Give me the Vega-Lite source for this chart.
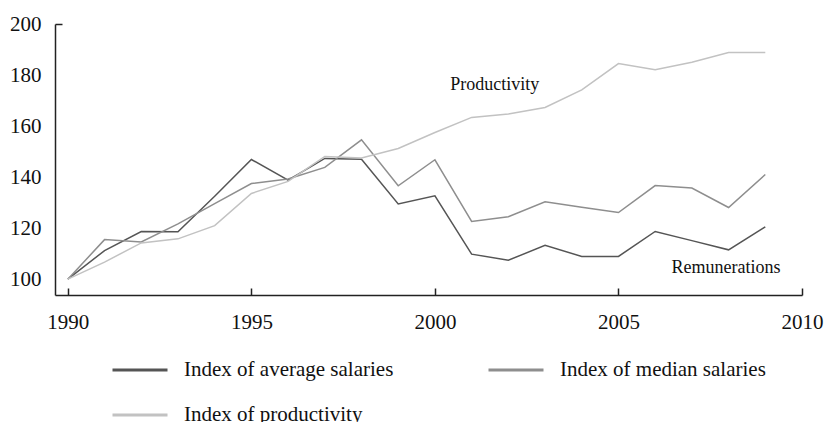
{
  "$schema": "https://vega.github.io/schema/vega-lite/v6.json",
  "autosize": "none",
  "width": 747,
  "height": 271,
  "padding": {"left": 55, "top": 24, "right": 22, "bottom": 127},
  "background": "white",
  "config": {
    "view": {"stroke": null},
    "font": "Liberation Serif",
    "axis": {"domainColor": "#222", "domainWidth": 1.5, "tickColor": "#222", "tickWidth": 1.5, "labelColor": "#111", "labelFont": "Liberation Serif", "labelFontSize": 21, "grid": false, "title": null}
  },
  "datasets": {
    "series": [
      {"year": 1990, "series": "Index of average salaries", "value": 100},
      {"year": 1991, "series": "Index of average salaries", "value": 111.2},
      {"year": 1992, "series": "Index of average salaries", "value": 118.7},
      {"year": 1993, "series": "Index of average salaries", "value": 118.6},
      {"year": 1994, "series": "Index of average salaries", "value": 132.5},
      {"year": 1995, "series": "Index of average salaries", "value": 146.9},
      {"year": 1996, "series": "Index of average salaries", "value": 138.8},
      {"year": 1997, "series": "Index of average salaries", "value": 147.3},
      {"year": 1998, "series": "Index of average salaries", "value": 147.0},
      {"year": 1999, "series": "Index of average salaries", "value": 129.5},
      {"year": 2000, "series": "Index of average salaries", "value": 132.7},
      {"year": 2001, "series": "Index of average salaries", "value": 109.8},
      {"year": 2002, "series": "Index of average salaries", "value": 107.4},
      {"year": 2003, "series": "Index of average salaries", "value": 113.3},
      {"year": 2004, "series": "Index of average salaries", "value": 108.9},
      {"year": 2005, "series": "Index of average salaries", "value": 108.9},
      {"year": 2006, "series": "Index of average salaries", "value": 118.7},
      {"year": 2007, "series": "Index of average salaries", "value": 115.1},
      {"year": 2008, "series": "Index of average salaries", "value": 111.5},
      {"year": 2009, "series": "Index of average salaries", "value": 120.5},
      {"year": 1990, "series": "Index of median salaries", "value": 100},
      {"year": 1991, "series": "Index of median salaries", "value": 115.5},
      {"year": 1992, "series": "Index of median salaries", "value": 114.6},
      {"year": 1993, "series": "Index of median salaries", "value": 121.7},
      {"year": 1994, "series": "Index of median salaries", "value": 129.6},
      {"year": 1995, "series": "Index of median salaries", "value": 137.5},
      {"year": 1996, "series": "Index of median salaries", "value": 139.3},
      {"year": 1997, "series": "Index of median salaries", "value": 143.8},
      {"year": 1998, "series": "Index of median salaries", "value": 154.6},
      {"year": 1999, "series": "Index of median salaries", "value": 136.6},
      {"year": 2000, "series": "Index of median salaries", "value": 146.8},
      {"year": 2001, "series": "Index of median salaries", "value": 122.6},
      {"year": 2002, "series": "Index of median salaries", "value": 124.5},
      {"year": 2003, "series": "Index of median salaries", "value": 130.3},
      {"year": 2004, "series": "Index of median salaries", "value": 128.2},
      {"year": 2005, "series": "Index of median salaries", "value": 126.1},
      {"year": 2006, "series": "Index of median salaries", "value": 136.7},
      {"year": 2007, "series": "Index of median salaries", "value": 135.7},
      {"year": 2008, "series": "Index of median salaries", "value": 128.1},
      {"year": 2009, "series": "Index of median salaries", "value": 141.0},
      {"year": 1990, "series": "Index of productivity", "value": 100},
      {"year": 1991, "series": "Index of productivity", "value": 106.7},
      {"year": 1992, "series": "Index of productivity", "value": 114.2},
      {"year": 1993, "series": "Index of productivity", "value": 115.8},
      {"year": 1994, "series": "Index of productivity", "value": 121.0},
      {"year": 1995, "series": "Index of productivity", "value": 133.6},
      {"year": 1996, "series": "Index of productivity", "value": 138.3},
      {"year": 1997, "series": "Index of productivity", "value": 148.1},
      {"year": 1998, "series": "Index of productivity", "value": 147.5},
      {"year": 1999, "series": "Index of productivity", "value": 151.2},
      {"year": 2000, "series": "Index of productivity", "value": 157.5},
      {"year": 2001, "series": "Index of productivity", "value": 163.4},
      {"year": 2002, "series": "Index of productivity", "value": 164.7},
      {"year": 2003, "series": "Index of productivity", "value": 167.3},
      {"year": 2004, "series": "Index of productivity", "value": 174.2},
      {"year": 2005, "series": "Index of productivity", "value": 184.5},
      {"year": 2006, "series": "Index of productivity", "value": 182.1},
      {"year": 2007, "series": "Index of productivity", "value": 185.0},
      {"year": 2008, "series": "Index of productivity", "value": 188.8},
      {"year": 2009, "series": "Index of productivity", "value": 188.8}
    ],
    "labels": [
      {"year": 2001.63, "value": 176.2, "label": "Productivity"},
      {"year": 2007.93, "value": 104.5, "label": "Remunerations"}
    ]
  },
  "layer": [
    {
      "data": {"name": "series"},
      "mark": {"type": "line", "strokeWidth": 1.5},
      "encoding": {
        "x": {
          "field": "year", "type": "quantitative",
          "scale": {"domain": [1989.65, 2010], "nice": false, "zero": false},
          "axis": {"values": [1990, 1995, 2000, 2005, 2010], "format": "d", "tickSize": -7, "labelPadding": 23, "labelFlush": false}
        },
        "y": {
          "field": "value", "type": "quantitative",
          "scale": {"domain": [93.8, 200], "nice": false, "zero": false},
          "axis": {"values": [100, 120, 140, 160, 180, 200], "tickSize": -7, "tickOpacity": {"condition": {"test": "datum.value == 200", "value": 1}, "value": 0}, "labelPadding": 21, "labelFlush": false}
        },
        "color": {
          "field": "series", "type": "nominal",
          "scale": {"domain": ["Index of average salaries", "Index of median salaries", "Index of productivity"], "range": ["#555555", "#8e8e8e", "#c2c2c2"]},
          "legend": {
            "title": null, "orient": "none", "legendX": 56, "legendY": 317, "direction": "horizontal", "columns": 2,
            "columnPadding": 88, "rowPadding": 6, "symbolType": "stroke", "symbolSize": 3025, "symbolStrokeWidth": 3,
            "labelFont": "Liberation Serif", "labelFontSize": 21, "labelColor": "#111", "labelOffset": 15, "labelLimit": 400
          }
        }
      }
    },
    {
      "data": {"name": "labels"},
      "mark": {"type": "text", "font": "Liberation Serif", "fontSize": 18, "color": "#111", "align": "center", "baseline": "middle"},
      "encoding": {
        "x": {"field": "year", "type": "quantitative"},
        "y": {"field": "value", "type": "quantitative"},
        "text": {"field": "label"}
      }
    }
  ]
}
